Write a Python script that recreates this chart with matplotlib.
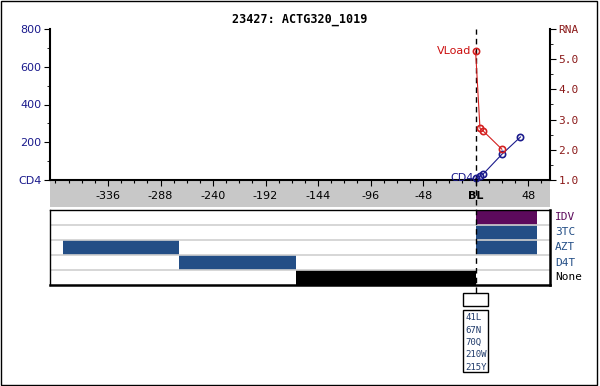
import numpy as np
import matplotlib.pyplot as plt
from matplotlib.patches import Rectangle

# data
title = '23427: ACTG320_1019'
cd4_days = [0, 4, 7, 24, 41]
cd4_vals = [9, 21, 32, 136, 228]
rna_days = [0, 4, 7, 24]
rna_vals = [5.27, 2.71, 2.62, 2.02]

drugs = ['IDV', '3TC', 'AZT', 'D4T', 'None']
drug_spans = {
    'IDV': [(0, 56)],
    '3TC': [(0, 56)],
    'AZT': [(-377, -271), (0, 56)],
    'D4T': [(-271, -164)],
    'None': [(-164, 0)],
}
drug_colors = {'IDV': '#5c0a5c', '3TC': '#234e86', 'AZT': '#234e86',
               'D4T': '#234e86', 'None': '#000000'}
label_colors = {'IDV': '#5c0a5c', '3TC': '#234e86', 'AZT': '#234e86',
                'D4T': '#234e86', 'None': '#000000'}
mutations = ['41L', '67N', '70Q', '210W', '215Y']
xticks = [-336, -288, -240, -192, -144, -96, -48, 0, 48]
xticklabels = ['-336', '-288', '-240', '-192', '-144', '-96', '-48', 'BL', '48']

xmin, xmax = -389, 68
W, H = 600, 386
navy = '#1a1a8c'
dred = '#8b1a1a'

def fx(px):
    return px / W

def fy(py):
    return 1 - py / H

fig = plt.figure(figsize=(6, 3.86), dpi=100)
fig.patches.append(Rectangle((0.002, 0.003), 0.993, 0.994, transform=fig.transFigure,
                             fill=False, lw=1, ec='black'))

# grey band under the x axis, as its own axes behind the main one
axg = fig.add_axes([fx(50), fy(207), fx(500), 27 / H], zorder=-1)
axg.set_facecolor('#c8c8c8')
axg.set_xticks([])
axg.set_yticks([])
for s in axg.spines.values():
    s.set_visible(False)

ax = fig.add_axes([fx(50), fy(180), fx(500), 151 / H])
ax.set_xlim(xmin, xmax)
ax.set_ylim(0, 800)
ax.patch.set_alpha(0)
for s in ['top', 'right']:
    ax.spines[s].set_visible(False)
ax.spines['left'].set_linewidth(1.5)
ax.spines['bottom'].set_linewidth(1.5)
ax.set_xticks(xticks)
ax.set_xticklabels(xticklabels, fontsize=8)
ax.set_xticks(np.arange(-384, 68, 12), minor=True)
ax.tick_params(axis='x', direction='out', length=4, width=0.8, pad=4)
ax.tick_params(axis='x', which='minor', length=2.5, width=0.8)
for t in ax.get_xticklabels():
    if t.get_text() == 'BL':
        t.set_fontweight('bold')
ax.set_yticks([0, 200, 400, 600, 800])
ax.set_yticklabels(['CD4', '200', '400', '600', '800'], fontsize=8, color=navy)
ax.set_yticks(np.arange(0, 801, 100), minor=True)
ax.tick_params(axis='y', length=4, width=0.8, pad=2)
ax.tick_params(axis='y', which='minor', length=2.5)

ax.axvline(0, color='black', ls=(0, (4, 3)), lw=1)

ax.plot(cd4_days, cd4_vals, color=navy, lw=0.8, marker='o', ms=4.5, mfc='none',
        mec=navy, mew=1.2, clip_on=False, zorder=5)
ax.text(-2, cd4_vals[0], 'CD4', color=navy, fontsize=8, ha='right', va='center')

ax2 = ax.twinx()
ax2.set_ylim(1, 6)
ax2.patch.set_alpha(0)
for s in ['top', 'left', 'bottom']:
    ax2.spines[s].set_visible(False)
ax2.spines['right'].set_linewidth(1.5)
ax2.set_yticks([1, 2, 3, 4, 5, 6])
ax2.set_yticklabels(['1.0', '2.0', '3.0', '4.0', '5.0', 'RNA'], fontsize=8, color=dred,
                    family='DejaVu Sans Mono')
ax2.set_yticks(np.arange(1, 6.01, 0.5), minor=True)
ax2.tick_params(axis='y', length=4, width=0.8, pad=2)
ax2.tick_params(axis='y', which='minor', length=2.5)
ax2.plot(rna_days, rna_vals, color='#d42020', lw=0.8, marker='o', ms=4.5, mfc='none',
         mec='#d42020', mew=1.2, clip_on=False, zorder=5)
ax2.text(-4, rna_vals[0], 'VLoad', color='#cc1010', fontsize=8, ha='right', va='center')

fig.text(0.5, fy(20), title, ha='center', va='center', fontsize=8.5,
         fontweight='bold', family='DejaVu Sans Mono')

# drug panel
axd = fig.add_axes([fx(50), fy(285), fx(500), 75 / H])
axd.set_xlim(xmin, xmax)
axd.set_ylim(len(drugs), 0)
for i, d in enumerate(drugs):
    for a, b in drug_spans[d]:
        axd.add_patch(Rectangle((a, i), b - a, 1, fc=drug_colors[d], ec='none', zorder=1))
    if i > 0:
        axd.axhline(i, color='#d0d0d0', lw=1.2, zorder=3)
    axd.text(1.01, 1 - (i + 0.5) / len(drugs), d, transform=axd.transAxes,
             color=label_colors[d], fontsize=8, va='center', family='DejaVu Sans Mono')
axd.set_xticks([])
axd.set_yticks([])
for s in axd.spines.values():
    s.set_linewidth(1)
    s.set_zorder(4)
axd.spines['bottom'].set_linewidth(1.8)
axd.spines['right'].set_linewidth(1.8)

# dashed baseline line through the panels
fig.lines.append(plt.Line2D([fx(475.7), fx(475.7)], [fy(180), fy(293)],
                            transform=fig.transFigure, color='black', lw=1,
                            ls=(0, (4, 3)), zorder=5))

# mutation boxes
fig.patches.append(Rectangle((fx(463), fy(306)), fx(25), 13 / H, transform=fig.transFigure,
                             fill=False, ec='black', lw=1))
fig.patches.append(Rectangle((fx(463), fy(372)), fx(25), 62 / H, transform=fig.transFigure,
                             fill=False, ec='black', lw=1))
for k, m in enumerate(mutations):
    fig.text(fx(465), fy(318 + k * 12.3), m, fontsize=6.5, color='#1f3a6a',
             va='center', ha='left', family='DejaVu Sans Mono')

fig.savefig('out.png', dpi=100)
